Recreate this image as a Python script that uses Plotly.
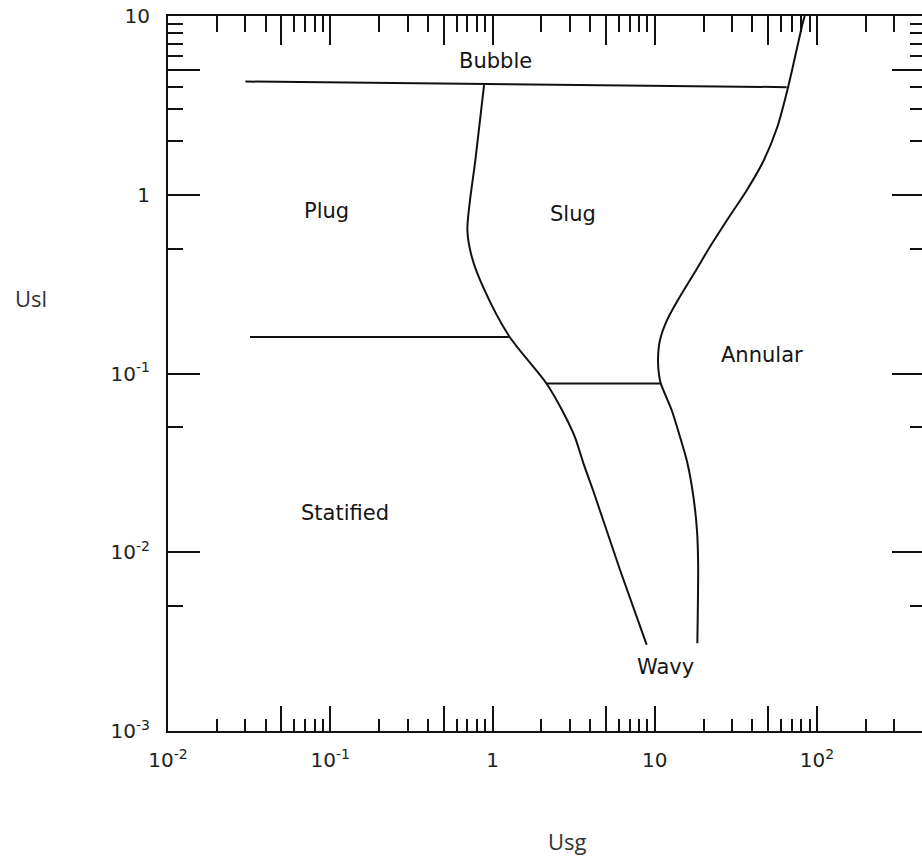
import math
import plotly.graph_objects as go

# ---- data ----
bubble_x = [0.03, 1.0, 65.0]
bubble_y = [4.3, 4.15, 4.0]

plug_slug_x = [0.887, 0.787, 0.70, 0.745, 0.873, 1.264, 2.14, 2.68, 3.22, 3.66, 4.16, 6.11, 8.92]
plug_slug_y = [4.11, 1.61, 0.635, 0.45, 0.306, 0.162, 0.0885, 0.0625, 0.0441, 0.0308, 0.0223,
               0.00796, 0.00303]

plug_strat_x = [0.032, 1.26]
plug_strat_y = [0.16, 0.16]

slug_wavy_x = [2.14, 10.9]
slug_wavy_y = [0.088, 0.088]

annular_x = [84.0, 82.0, 66.3, 57.0, 47.0, 37.0, 28.7, 21.9, 17.5, 13.9, 11.9, 10.77, 10.47, 10.63,
             10.9, 12.7, 14.3, 15.9, 17.3, 18.2, 18.5, 18.3]
annular_y = [10.0, 9.29, 3.99, 2.40, 1.56, 1.064, 0.751, 0.512, 0.364, 0.258, 0.199, 0.154, 0.119,
             0.098, 0.0878, 0.0625, 0.0443, 0.0315, 0.0205, 0.0133, 0.00867, 0.0031]

region_names = ["Bubble", "Plug", "Slug", "Annular", "Statified", "Wavy"]
region_x = [1.05, 0.0942, 3.13, 45.6, 0.123, 11.6]
region_y = [5.6, 0.81, 0.78, 0.127, 0.0166, 0.00229]

x_major = [0.01, 0.05, 0.1, 0.5, 1, 5, 10, 50, 100]
x_major_text = ["10<sup>-2</sup>", "", "10<sup>-1</sup>", "", "1", "", "10", "", "10<sup>2</sup>"]
x_minor = [m * d for d in [0.01, 0.1, 1, 10] for m in [2, 3, 4, 6, 7, 8, 9]] + [200, 300]

y_major = [0.001, 0.01, 0.1, 1, 5, 10]
y_major_text = ["10<sup>-3</sup>", "10<sup>-2</sup>", "10<sup>-1</sup>", "1", "", "10"]
y_minor = [0.005, 0.05, 0.5, 2, 3, 4, 6, 7, 8, 9]

INK = "#111111"
fig = go.Figure()

def add_line(xs, ys, spline=False):
    fig.add_trace(go.Scatter(
        x=xs, y=ys, mode="lines",
        line=dict(color=INK, width=2, shape="spline" if spline else "linear", smoothing=0.8),
        showlegend=False, hoverinfo="skip"))

add_line(bubble_x, bubble_y)
add_line(plug_slug_x, plug_slug_y, spline=True)
add_line(plug_strat_x, plug_strat_y)
add_line(slug_wavy_x, slug_wavy_y)
add_line(annular_x, annular_y, spline=True)

# dummy trace for the mirrored (top/right) axes
fig.add_trace(go.Scatter(x=[], y=[], xaxis="x2", yaxis="y2", showlegend=False, hoverinfo="skip"))

# annotations on log axes take log10 coordinates
for name, xv, yv in zip(region_names, region_x, region_y):
    fig.add_annotation(x=math.log10(xv), y=math.log10(yv), xref="x", yref="y", text=name,
                       showarrow=False,
                       font=dict(family="DejaVu Sans", size=21, color="#151515"),
                       xanchor="center", yanchor="middle")

fig.add_annotation(x=(31 - 168) / 754, y=(731 - 298) / 715, xref="paper", yref="paper",
                   text="Usl", showarrow=False, xanchor="center", yanchor="middle",
                   font=dict(family="Open Sans", size=22, color="#333333"))
fig.add_annotation(x=(567 - 168) / 754, y=(731 - 841) / 715, xref="paper", yref="paper",
                   text="Usg", showarrow=False, xanchor="center", yanchor="middle",
                   font=dict(family="Open Sans", size=22, color="#333333"))

XR = [-2, 2.647]
YR = [-3, 1]
tickfont = dict(family="DejaVu Sans", size=20, color="#222222")

fig.update_layout(
    width=922, height=857,
    margin=dict(l=168, r=0, t=16, b=126),
    paper_bgcolor="white", plot_bgcolor="white",
    xaxis=dict(type="log", range=XR, showgrid=False, zeroline=False,
               showline=True, linecolor=INK, linewidth=2,
               ticks="inside", ticklen=25, tickwidth=2, tickcolor=INK,
               tickvals=x_major, ticktext=x_major_text, tickfont=tickfont,
               ticklabelstandoff=10,
               minor=dict(tickvals=x_minor, ticks="inside", ticklen=12, tickwidth=2, tickcolor=INK,
                          showgrid=False)),
    xaxis2=dict(type="log", range=XR, overlaying="x", side="top", anchor="y",
                showgrid=False, zeroline=False, showline=True, linecolor=INK, linewidth=2,
                ticks="inside", ticklen=29, tickwidth=2, tickcolor=INK,
                tickvals=x_major, showticklabels=False,
                minor=dict(tickvals=x_minor, ticks="inside", ticklen=16, tickwidth=2, tickcolor=INK,
                           showgrid=False)),
    yaxis=dict(type="log", range=YR, showgrid=False, zeroline=False,
               showline=True, linecolor=INK, linewidth=2,
               ticks="inside", ticklen=32, tickwidth=2, tickcolor=INK,
               tickvals=y_major, ticktext=y_major_text, tickfont=tickfont,
               ticklabelstandoff=12,
               minor=dict(tickvals=y_minor, ticks="inside", ticklen=15, tickwidth=2, tickcolor=INK,
                          showgrid=False)),
    yaxis2=dict(type="log", range=YR, overlaying="y", side="right", anchor="x",
                showgrid=False, zeroline=False, showline=False,
                ticks="inside", ticklen=30, tickwidth=2, tickcolor=INK,
                tickvals=y_major, showticklabels=False,
                minor=dict(tickvals=y_minor, ticks="inside", ticklen=12, tickwidth=2, tickcolor=INK,
                           showgrid=False)),
)

fig.write_html("out.html")
